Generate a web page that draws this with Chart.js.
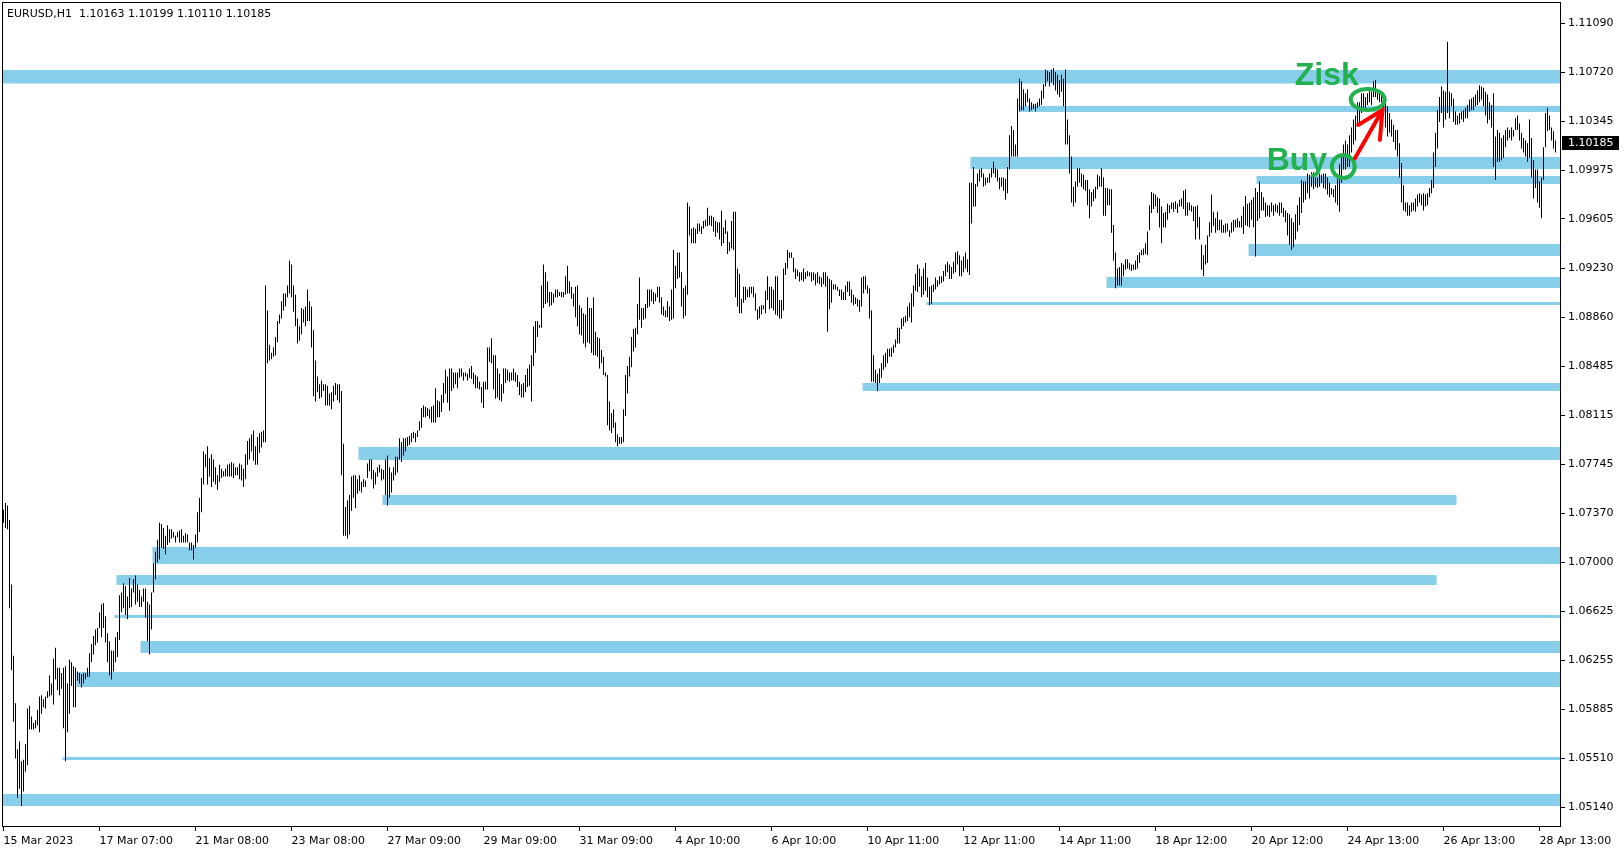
<!DOCTYPE html>
<html>
<head>
<meta charset="utf-8">
<title>EURUSD,H1</title>
<script src="https://cdn.jsdelivr.net/npm/chart.js@4.4.1/dist/chart.umd.min.js"></script>
<style>
  html, body { margin: 0; padding: 0; background: #fff; }
  #wrap { position: relative; width: 1624px; height: 850px; }
</style>
</head>
<body>
<div id="wrap"><canvas id="chart" width="1624" height="850"></canvas></div>
<script>
// ─── EURUSD H1 with support / resistance zones ───

// time axis: one label every 48 hourly bars
const tickLabels = ['15 Mar 2023', '17 Mar 07:00', '21 Mar 08:00', '23 Mar 08:00', '27 Mar 09:00', '29 Mar 09:00',
    '31 Mar 09:00', '4 Apr 10:00', '6 Apr 10:00', '10 Apr 11:00', '12 Apr 11:00', '14 Apr 11:00',
    '18 Apr 12:00', '20 Apr 12:00', '24 Apr 13:00', '26 Apr 13:00', '28 Apr 13:00'];
const tickStep = 48;

// price axis labels
const priceTicks = [1.11090, 1.10720, 1.10345, 1.09975, 1.09605, 1.09230, 1.08860, 1.08485, 1.08115,
    1.07745, 1.07370, 1.07000, 1.06625, 1.06255, 1.05885, 1.05510, 1.05140];

// last bar O H L C
const lastOHLC = [1.10163, 1.10199, 1.10110, 1.10185];

// bar highs, one per hour
const highs = [
    1.0740,1.0745,1.0743,1.0732,1.0683,1.0629,1.0593,1.0558,1.0564,1.0549, // 0
    1.0550,1.0562,1.0589,1.0591,1.0583,1.0578,1.0580,1.0588,1.0598,1.0599,
    1.0596,1.0598,1.0602,1.0614,1.0608,1.0627,1.0635,1.0620,1.0620,1.0616,
    1.0620,1.0621,1.0608,1.0626,1.0624,1.0621,1.0620,1.0617,1.0616,1.0615,
    1.0616,1.0616,1.0620,1.0631,1.0638,1.0644,1.0649,1.0650,1.0662,1.0668,
    1.0669,1.0659,1.0646,1.0640,1.0633,1.0633,1.0643,1.0647,1.0675,1.0677, // 50
    1.0684,1.0682,1.0674,1.0688,1.0680,1.0687,1.0690,1.0683,1.0679,1.0674,
    1.0680,1.0680,1.0670,1.0668,1.0677,1.0699,1.0708,1.0717,1.0730,1.0729,
    1.0726,1.0720,1.0728,1.0725,1.0725,1.0723,1.0720,1.0723,1.0724,1.0725,
    1.0720,1.0722,1.0721,1.0715,1.0715,1.0713,1.0721,1.0738,1.0749,1.0764,
    1.0784,1.0782,1.0788,1.0779,1.0782,1.0778,1.0772,1.0766,1.0774,1.0771, // 100
    1.0769,1.0771,1.0774,1.0775,1.0776,1.0775,1.0772,1.0772,1.0775,1.0774,
    1.0771,1.0782,1.0792,1.0794,1.0797,1.0800,1.0788,1.0795,1.0798,1.0799,
    1.0800,1.0910,1.0891,1.0865,1.0859,1.0863,1.0871,1.0883,1.0888,1.0898,
    1.0904,1.0904,1.0910,1.0929,1.0926,1.0910,1.0903,1.0885,1.0879,1.0893,
    1.0892,1.0894,1.0907,1.0898,1.0894,1.0876,1.0853,1.0841,1.0835,1.0838, // 150
    1.0835,1.0835,1.0834,1.0828,1.0829,1.0834,1.0836,1.0835,1.0835,1.0830,
    1.0790,1.0742,1.0747,1.0751,1.0765,1.0766,1.0766,1.0763,1.0766,1.0761,
    1.0763,1.0762,1.0775,1.0778,1.0778,1.0770,1.0768,1.0772,1.0774,1.0771,
    1.0770,1.0778,1.0781,1.0772,1.0768,1.0772,1.0780,1.0780,1.0794,1.0791,
    1.0794,1.0794,1.0795,1.0796,1.0798,1.0799,1.0798,1.0800,1.0807,1.0817, // 200
    1.0819,1.0818,1.0817,1.0816,1.0818,1.0819,1.0832,1.0823,1.0822,1.0827,
    1.0836,1.0846,1.0841,1.0847,1.0847,1.0844,1.0844,1.0844,1.0847,1.0847,
    1.0844,1.0844,1.0843,1.0847,1.0849,1.0844,1.0842,1.0841,1.0837,1.0833,
    1.0837,1.0837,1.0863,1.0863,1.0870,1.0857,1.0857,1.0847,1.0843,1.0835,
    1.0847,1.0847,1.0846,1.0844,1.0844,1.0847,1.0844,1.0842,1.0837,1.0835, // 250
    1.0836,1.0842,1.0847,1.0850,1.0857,1.0879,1.0883,1.0883,1.0880,1.0910,
    1.0926,1.0920,1.0913,1.0905,1.0905,1.0904,1.0907,1.0907,1.0905,1.0905,
    1.0905,1.0917,1.0925,1.0913,1.0909,1.0904,1.0909,1.0910,1.0895,1.0893,
    1.0889,1.0888,1.0901,1.0893,1.0893,1.0901,1.0875,1.0871,1.0870,1.0861,
    1.0856,1.0844,1.0842,1.0822,1.0813,1.0816,1.0806,1.0797,1.0795,1.0795, // 300
    1.0816,1.0842,1.0849,1.0856,1.0871,1.0877,1.0878,1.0896,1.0916,1.0893,
    1.0893,1.0896,1.0907,1.0907,1.0907,1.0905,1.0904,1.0909,1.0909,1.0901,
    1.0894,1.0891,1.0898,1.0894,1.0907,1.0937,1.0925,1.0935,1.0935,1.0920,
    1.0908,1.0910,1.0973,1.0970,1.0953,1.0954,1.0953,1.0957,1.0957,1.0955,
    1.0959,1.0960,1.0969,1.0963,1.0963,1.0962,1.0959,1.0958,1.0958,1.0967, // 350
    1.0954,1.0960,1.0951,1.0943,1.0959,1.0966,1.0966,1.0923,1.0919,1.0900,
    1.0909,1.0909,1.0907,1.0909,1.0909,1.0909,1.0904,1.0892,1.0894,1.0895,
    1.0895,1.0906,1.0917,1.0909,1.0909,1.0907,1.0917,1.0917,1.0899,1.0899,
    1.0923,1.0927,1.0937,1.0935,1.0935,1.0931,1.0923,1.0922,1.0920,1.0920,
    1.0923,1.0920,1.0921,1.0920,1.0920,1.0920,1.0919,1.0920,1.0917,1.0916, // 400
    1.0920,1.0920,1.0917,1.0915,1.0914,1.0911,1.0911,1.0909,1.0907,1.0907,
    1.0905,1.0910,1.0913,1.0913,1.0907,1.0903,1.0901,1.0900,1.0899,1.0916,
    1.0917,1.0917,1.0910,1.0908,1.0891,1.0857,1.0846,1.0843,1.0847,1.0851,
    1.0857,1.0859,1.0862,1.0862,1.0863,1.0865,1.0869,1.0878,1.0878,1.0885,
    1.0886,1.0887,1.0894,1.0897,1.0904,1.0910,1.0919,1.0926,1.0923,1.0917, // 450
    1.0923,1.0927,1.0916,1.0909,1.0910,1.0911,1.0916,1.0914,1.0917,1.0917,
    1.0921,1.0926,1.0928,1.0926,1.0924,1.0928,1.0935,1.0936,1.0933,1.0929,
    1.0932,1.0935,1.0930,1.0988,1.0988,1.1000,1.0987,1.0995,1.0998,1.0999,
    1.0995,1.0992,1.0992,1.0995,1.0999,1.1004,1.0999,1.0998,1.0992,1.0992,
    1.0992,1.0991,1.1000,1.1024,1.1031,1.1028,1.1017,1.1052,1.1067,1.1065, // 500
    1.1059,1.1056,1.1059,1.1052,1.1049,1.1048,1.1048,1.1049,1.1052,1.1058,
    1.1063,1.1074,1.1073,1.1072,1.1074,1.1075,1.1072,1.1070,1.1066,1.1070,
    1.1067,1.1074,1.1036,1.1024,1.1008,1.0985,1.0989,1.0999,1.0999,1.0995,
    1.0994,1.0990,1.0990,1.0983,1.0981,1.0983,1.0985,1.0994,1.0993,1.0999,
    1.0992,1.0984,1.0984,1.0983,1.0983,1.0956,1.0935,1.0923,1.0924,1.0927, // 550
    1.0926,1.0930,1.0930,1.0927,1.0926,1.0926,1.0929,1.0933,1.0935,1.0937,
    1.0938,1.0942,1.0951,1.0971,1.0981,1.0980,1.0979,1.0977,1.0976,1.0970,
    1.0965,1.0966,1.0972,1.0971,1.0973,1.0973,1.0974,1.0972,1.0975,1.0976,
    1.0982,1.0983,1.0973,1.0973,1.0971,1.0970,1.0970,1.0971,1.0962,1.0941,
    1.0933,1.0941,1.0948,1.0958,1.0979,1.0966,1.0961,1.0966,1.0960,1.0960, // 600
    1.0956,1.0957,1.0957,1.0952,1.0958,1.0960,1.0960,1.0961,1.0959,1.0963,
    1.0970,1.0978,1.0972,1.0973,1.0975,1.0977,1.0984,1.0981,1.0989,1.0981,
    1.0977,1.0973,1.0971,1.0971,1.0973,1.0971,1.0972,1.0971,1.0973,1.0973,
    1.0969,1.0967,1.0965,1.0964,1.0961,1.0958,1.0964,1.0971,1.0977,1.0990,
    1.0989,1.0989,1.0995,1.0994,1.0996,1.0996,1.0992,1.0992,1.0995,1.0994, // 650
    1.0995,1.0995,1.0992,1.0988,1.0984,1.0983,1.0986,1.0991,1.1002,1.1009,
    1.1017,1.1020,1.1017,1.1024,1.1030,1.1036,1.1039,1.1049,1.1049,1.1056,
    1.1056,1.1053,1.1056,1.1060,1.1057,1.1065,1.1066,1.1058,1.1056,1.1055,
    1.1053,1.1049,1.1046,1.1041,1.1036,1.1032,1.1028,1.1028,1.1018,1.1003,
    1.0986,1.0973,1.0973,1.0971,1.0973,1.0973,1.0976,1.0979,1.0980,1.0979, // 700
    1.0980,1.0979,1.0980,1.0984,1.0990,1.1011,1.1026,1.1043,1.1053,1.1061,
    1.1058,1.1057,1.1095,1.1057,1.1056,1.1052,1.1042,1.1039,1.1041,1.1042,
    1.1043,1.1045,1.1047,1.1051,1.1052,1.1053,1.1055,1.1058,1.1062,1.1061,
    1.1060,1.1057,1.1055,1.1049,1.1047,1.1056,1.1023,1.1028,1.1026,1.1022,
    1.1024,1.1028,1.1030,1.1028,1.1030,1.1028,1.1037,1.1039,1.1033,1.1026, // 750
    1.1022,1.1020,1.1018,1.1036,1.1022,1.1005,1.0998,1.0998,1.0989,1.0992,
    1.1015,1.1041,1.1045,1.1039,1.1030,1.1027,1.1020
];

// bar lows, one per hour
const lows = [
    1.0730,1.0726,1.0725,1.0665,1.0618,1.0579,1.0551,1.0521,1.0528,1.0515, // 0
    1.0526,1.0541,1.0546,1.0573,1.0573,1.0573,1.0574,1.0576,1.0571,1.0585,
    1.0590,1.0589,1.0597,1.0598,1.0599,1.0592,1.0611,1.0603,1.0599,1.0604,
    1.0574,1.0549,1.0571,1.0585,1.0606,1.0590,1.0590,1.0610,1.0608,1.0605,
    1.0608,1.0611,1.0613,1.0613,1.0624,1.0630,1.0637,1.0639,1.0650,1.0643,
    1.0650,1.0639,1.0624,1.0614,1.0611,1.0617,1.0624,1.0628,1.0641,1.0662, // 50
    1.0665,1.0660,1.0657,1.0665,1.0666,1.0677,1.0668,1.0670,1.0666,1.0666,
    1.0670,1.0658,1.0640,1.0630,1.0649,1.0677,1.0687,1.0700,1.0702,1.0711,
    1.0710,1.0706,1.0713,1.0715,1.0718,1.0719,1.0715,1.0719,1.0715,1.0715,
    1.0715,1.0715,1.0715,1.0709,1.0709,1.0702,1.0711,1.0715,1.0723,1.0738,
    1.0759,1.0772,1.0759,1.0765,1.0757,1.0761,1.0759,1.0755,1.0761,1.0764, // 100
    1.0765,1.0765,1.0765,1.0765,1.0765,1.0764,1.0766,1.0766,1.0763,1.0762,
    1.0757,1.0763,1.0774,1.0778,1.0784,1.0777,1.0774,1.0774,1.0783,1.0787,
    1.0791,1.0791,1.0851,1.0853,1.0854,1.0856,1.0857,1.0867,1.0881,1.0885,
    1.0891,1.0894,1.0901,1.0904,1.0901,1.0890,1.0879,1.0866,1.0868,1.0873,
    1.0882,1.0879,1.0883,1.0883,1.0863,1.0826,1.0822,1.0829,1.0824,1.0825, // 150
    1.0830,1.0819,1.0819,1.0819,1.0816,1.0822,1.0827,1.0823,1.0821,1.0766,
    1.0720,1.0720,1.0718,1.0721,1.0739,1.0749,1.0741,1.0752,1.0754,1.0753,
    1.0757,1.0757,1.0764,1.0769,1.0763,1.0756,1.0759,1.0765,1.0768,1.0762,
    1.0763,1.0751,1.0743,1.0749,1.0753,1.0762,1.0766,1.0768,1.0778,1.0776,
    1.0781,1.0784,1.0788,1.0789,1.0791,1.0794,1.0791,1.0795,1.0800,1.0802, // 200
    1.0810,1.0810,1.0811,1.0809,1.0806,1.0806,1.0806,1.0810,1.0810,1.0814,
    1.0821,1.0828,1.0821,1.0815,1.0830,1.0832,1.0835,1.0832,1.0840,1.0841,
    1.0838,1.0841,1.0838,1.0840,1.0839,1.0835,1.0832,1.0832,1.0831,1.0821,
    1.0817,1.0831,1.0831,1.0852,1.0851,1.0831,1.0824,1.0825,1.0823,1.0822,
    1.0828,1.0836,1.0838,1.0837,1.0838,1.0838,1.0837,1.0833,1.0827,1.0825, // 250
    1.0825,1.0829,1.0833,1.0834,1.0822,1.0849,1.0859,1.0871,1.0878,1.0878,
    1.0893,1.0896,1.0897,1.0894,1.0895,1.0897,1.0901,1.0901,1.0902,1.0901,
    1.0901,1.0903,1.0904,1.0904,1.0900,1.0894,1.0886,1.0879,1.0873,1.0872,
    1.0866,1.0863,1.0867,1.0866,1.0859,1.0857,1.0857,1.0856,1.0847,1.0851,
    1.0842,1.0841,1.0804,1.0800,1.0798,1.0802,1.0791,1.0788,1.0790,1.0790, // 300
    1.0791,1.0811,1.0828,1.0841,1.0848,1.0860,1.0863,1.0873,1.0884,1.0878,
    1.0884,1.0885,1.0893,1.0894,1.0898,1.0896,1.0898,1.0901,1.0897,1.0888,
    1.0887,1.0886,1.0886,1.0883,1.0884,1.0885,1.0908,1.0915,1.0916,1.0894,
    1.0885,1.0887,1.0903,1.0948,1.0942,1.0942,1.0942,1.0949,1.0951,1.0949,
    1.0953,1.0955,1.0955,1.0956,1.0955,1.0951,1.0947,1.0950,1.0945,1.0940, // 350
    1.0942,1.0949,1.0934,1.0936,1.0938,1.0937,1.0901,1.0894,1.0889,1.0889,
    1.0897,1.0899,1.0901,1.0901,1.0904,1.0901,1.0891,1.0884,1.0885,1.0888,
    1.0892,1.0889,1.0899,1.0892,1.0893,1.0891,1.0888,1.0887,1.0885,1.0885,
    1.0891,1.0918,1.0923,1.0931,1.0931,1.0920,1.0915,1.0917,1.0913,1.0914,
    1.0913,1.0915,1.0917,1.0917,1.0913,1.0914,1.0910,1.0912,1.0911,1.0909, // 400
    1.0911,1.0909,1.0875,1.0892,1.0897,1.0907,1.0907,1.0906,1.0902,1.0899,
    1.0899,1.0899,1.0905,1.0902,1.0897,1.0895,1.0896,1.0894,1.0890,1.0894,
    1.0904,1.0907,1.0904,1.0885,1.0837,1.0837,1.0836,1.0830,1.0836,1.0840,
    1.0846,1.0848,1.0851,1.0856,1.0856,1.0859,1.0863,1.0866,1.0866,1.0877,
    1.0879,1.0882,1.0883,1.0886,1.0882,1.0894,1.0906,1.0905,1.0909,1.0901, // 450
    1.0903,1.0906,1.0901,1.0895,1.0896,1.0905,1.0907,1.0909,1.0911,1.0912,
    1.0913,1.0917,1.0920,1.0915,1.0915,1.0919,1.0920,1.0926,1.0917,1.0917,
    1.0920,1.0923,1.0920,1.0918,1.0957,1.0970,1.0970,1.0985,1.0989,1.0992,
    1.0985,1.0986,1.0988,1.0988,1.0992,1.0995,1.0992,1.0989,1.0983,1.0985,
    1.0982,1.0975,1.0980,1.0998,1.1008,1.1008,1.1008,1.1008,1.1042,1.1043, // 500
    1.1043,1.1046,1.1049,1.1042,1.1043,1.1044,1.1042,1.1045,1.1046,1.1047,
    1.1052,1.1061,1.1065,1.1061,1.1064,1.1062,1.1058,1.1055,1.1053,1.1057,
    1.1046,1.1017,1.1017,1.0995,1.0973,1.0970,1.0973,1.0985,1.0988,1.0985,
    1.0983,1.0982,1.0971,1.0961,1.0970,1.0974,1.0976,1.0983,1.0985,1.0985,
    1.0963,1.0963,1.0971,1.0971,1.0950,1.0929,1.0908,1.0910,1.0910,1.0910, // 550
    1.0917,1.0922,1.0923,1.0922,1.0921,1.0922,1.0922,1.0923,1.0927,1.0933,
    1.0933,1.0934,1.0933,1.0952,1.0965,1.0968,1.0970,1.0965,1.0954,1.0942,
    1.0954,1.0954,1.0960,1.0965,1.0968,1.0966,1.0968,1.0965,1.0970,1.0970,
    1.0968,1.0963,1.0963,1.0967,1.0966,1.0959,1.0945,1.0954,1.0945,1.0922,
    1.0917,1.0926,1.0927,1.0947,1.0950,1.0955,1.0950,1.0952,1.0952,1.0950, // 600
    1.0950,1.0950,1.0951,1.0947,1.0950,1.0951,1.0954,1.0954,1.0954,1.0954,
    1.0949,1.0956,1.0955,1.0954,1.0960,1.0954,1.0932,1.0959,1.0961,1.0967,
    1.0967,1.0962,1.0963,1.0962,1.0966,1.0963,1.0966,1.0965,1.0963,1.0965,
    1.0962,1.0958,1.0948,1.0941,1.0937,1.0939,1.0945,1.0951,1.0956,1.0965,
    1.0973,1.0975,1.0980,1.0976,1.0985,1.0983,1.0985,1.0984,1.0985,1.0988, // 650
    1.0984,1.0983,1.0979,1.0977,1.0979,1.0977,1.0973,1.0971,1.0966,1.0988,
    1.0998,1.0998,1.1000,1.1000,1.1011,1.1017,1.1020,1.1032,1.1033,1.1041,
    1.1043,1.1045,1.1047,1.1049,1.1047,1.1053,1.1053,1.1051,1.1049,1.1049,
    1.1043,1.1030,1.1023,1.1026,1.1023,1.1019,1.1013,1.1008,1.0992,1.0973,
    1.0967,1.0966,1.0963,1.0963,1.0966,1.0967,1.0966,1.0970,1.0973,1.0971, // 700
    1.0967,1.0970,1.0971,1.0977,1.0980,1.0984,1.1000,1.1014,1.1034,1.1041,
    1.1030,1.1036,1.1041,1.1037,1.1046,1.1034,1.1032,1.1032,1.1033,1.1036,
    1.1034,1.1037,1.1037,1.1042,1.1043,1.1043,1.1046,1.1047,1.1049,1.1051,
    1.1046,1.1039,1.1033,1.1036,1.1030,1.1000,1.0990,1.1004,1.1004,1.1005,
    1.1007,1.1015,1.1020,1.1022,1.1020,1.1023,1.1028,1.1028,1.1020,1.1014, // 750
    1.1011,1.1008,1.1004,1.1007,1.0992,1.0976,1.0984,1.0973,1.0969,1.0961,
    1.0990,1.1015,1.1027,1.1028,1.1020,1.1014,1.1011
];

// horizontal zones (bar index where they start / end, price top / bottom); null = chart edge
const zoneFrom = [null, 508, 483.5, 626.5, 622.5, 551.5, 461.5, 429.5, 177.5, 189.5, 74.5, 56.5, 55.5, 68.5, 36.5, 29.5, null];
const zoneTo   = [null, null, null, null, null, null, null, null, null, 726.5, null, 716.5, null, null, null, null, null];
const zoneHigh = [1.10736, 1.10463, 1.10076, 1.09931, 1.09415, 1.09165, 1.08975, 1.08360, 1.07875,
    1.07510, 1.07116, 1.06903, 1.06600, 1.06402, 1.06167, 1.05522, 1.05241];
const zoneLow  = [1.10633, 1.10417, 1.09984, 1.09871, 1.09324, 1.09081, 1.08952, 1.08300, 1.07776,
    1.07434, 1.06987, 1.06827, 1.06577, 1.06311, 1.06053, 1.05499, 1.05150];

// hand drawn markup: rings (bar from, bar to, price top, price bottom), arrow points, words
const rings = [
    [673.6, 690.6, 1.10592, 1.10432],
    [664.2, 675.6, 1.10091, 1.09916]
];
const arrowPts = [[675.7, 1.10066], [689.5, 1.10432], [677.3, 1.10318], [688.2, 1.10205]];
const words = [['Zisk', 645.6, 1.10622], ['Buy', 631.6, 1.09973]];

const GREEN = '#22b14c';
const ZONE = '#87ceeb';
Chart.defaults.font.family = '"DejaVu Sans", sans-serif';
Chart.defaults.font.size = 11;
Chart.defaults.color = '#000';

const bars = highs.map(function(h, i) { return { x: i, y: [lows[i], h] }; });

const zonesPlugin = {
    id: 'zones',
    beforeDatasetsDraw(chart) {
        const { ctx, chartArea: a, scales: { x, y } } = chart;
        ctx.save();
        ctx.beginPath();
        ctx.rect(a.left, a.top, a.right - a.left, a.bottom - a.top);
        ctx.clip();
        ctx.fillStyle = ZONE;
        zoneHigh.forEach(function(top, k) {
            const x1 = zoneFrom[k] === null ? a.left : x.getPixelForValue(zoneFrom[k]);
            const x2 = zoneTo[k] === null ? a.right : x.getPixelForValue(zoneTo[k]);
            const y1 = y.getPixelForValue(top);
            const y2 = y.getPixelForValue(zoneLow[k]);
            ctx.fillRect(x1, y1, x2 - x1, y2 - y1);
        });
        ctx.restore();
    }
};

const markupPlugin = {
    id: 'markup',
    afterDatasetsDraw(chart) {
        const { ctx, scales: { x, y } } = chart;
        ctx.save();
        // green rings
        ctx.strokeStyle = GREEN;
        ctx.lineWidth = 4;
        rings.forEach(function(r) {
            const x0 = x.getPixelForValue(r[0]), x1 = x.getPixelForValue(r[1]);
            const y0 = y.getPixelForValue(r[2]), y1 = y.getPixelForValue(r[3]);
            ctx.beginPath();
            ctx.ellipse((x0 + x1) / 2, (y0 + y1) / 2, Math.abs(x1 - x0) / 2, Math.abs(y1 - y0) / 2, 0, 0, Math.PI * 2);
            ctx.stroke();
        });
        // red arrow
        const p = arrowPts.map(function(a) { return [x.getPixelForValue(a[0]), y.getPixelForValue(a[1])]; });
        ctx.strokeStyle = '#ff0000';
        ctx.lineWidth = 4;
        ctx.lineCap = 'round';
        ctx.beginPath();
        ctx.moveTo(p[0][0], p[0][1]); ctx.lineTo(p[1][0], p[1][1]);
        ctx.moveTo(p[2][0], p[2][1]); ctx.lineTo(p[1][0], p[1][1]); ctx.lineTo(p[3][0], p[3][1]);
        ctx.stroke();
        // words
        ctx.fillStyle = GREEN;
        ctx.font = 'bold 32px "Liberation Sans", Arial, sans-serif';
        ctx.textBaseline = 'alphabetic';
        ctx.textAlign = 'left';
        words.forEach(function(w) {
            ctx.fillText(w[0], x.getPixelForValue(w[1]), y.getPixelForValue(w[2]));
        });
        ctx.restore();
    },
    afterDraw(chart) {
        const { ctx, chartArea: a, scales: { y } } = chart;
        ctx.save();
        // frame
        ctx.strokeStyle = '#000';
        ctx.lineWidth = 1;
        ctx.strokeRect(a.left + 0.5, a.top + 0.5, a.right - a.left, a.bottom - a.top);
        // header
        ctx.fillStyle = '#000';
        ctx.font = '11px "DejaVu Sans", sans-serif';
        ctx.textBaseline = 'alphabetic';
        ctx.fillText('EURUSD,H1  ' + lastOHLC.map(function(v) { return v.toFixed(5); }).join(' '), 7, 17);
        // last price tag
        const py = Math.round(y.getPixelForValue(lastOHLC[3]));
        ctx.fillRect(a.right + 2, py - 7, 57, 14);
        ctx.fillStyle = '#fff';
        ctx.textBaseline = 'middle';
        ctx.fillText(lastOHLC[3].toFixed(5), a.right + 8, py);
        ctx.restore();
    }
};

new Chart(document.getElementById('chart').getContext('2d'), {
    type: 'bar',
    data: {
        datasets: [{
            data: bars,
            backgroundColor: '#000',
            borderWidth: 0,
            barThickness: 1,
            inflateAmount: 0,
            borderSkipped: false
        }]
    },
    options: {
        responsive: false,
        animation: false,
        events: [],
        layout: { padding: { left: 2, top: 2, right: 0, bottom: 0 } },
        plugins: { legend: { display: false }, tooltip: { enabled: false } },
        scales: {
            x: {
                type: 'linear',
                min: -0.75,
                max: 778.25,
                offset: false,
                afterBuildTicks: function(s) { s.ticks = tickLabels.map(function(t, k) { return { value: k * tickStep }; }); },
                afterFit: function(s) { s.height = 24; s.paddingLeft = 0; s.paddingRight = 0; },
                grid: { offset: false, drawOnChartArea: false, drawTicks: true, tickLength: 5, color: '#000' },
                border: { display: false },
                ticks: {
                    autoSkip: false, maxRotation: 0, align: 'start', padding: 4,
                    callback: function(v) { return tickLabels[Math.round(v / tickStep)]; }
                }
            },
            y: {
                type: 'linear',
                position: 'right',
                min: 1.0499808,
                max: 1.1125165,
                afterBuildTicks: function(s) { s.ticks = priceTicks.map(function(v) { return { value: v }; }); },
                afterFit: function(s) { s.width = 64; s.paddingTop = 0; s.paddingBottom = 0; },
                grid: { drawOnChartArea: false, drawTicks: true, tickLength: 5, color: '#000' },
                border: { display: false },
                ticks: { padding: 3, callback: function(v) { return v.toFixed(5); } }
            }
        }
    },
    plugins: [zonesPlugin, markupPlugin]
});
</script>
</body>
</html>
